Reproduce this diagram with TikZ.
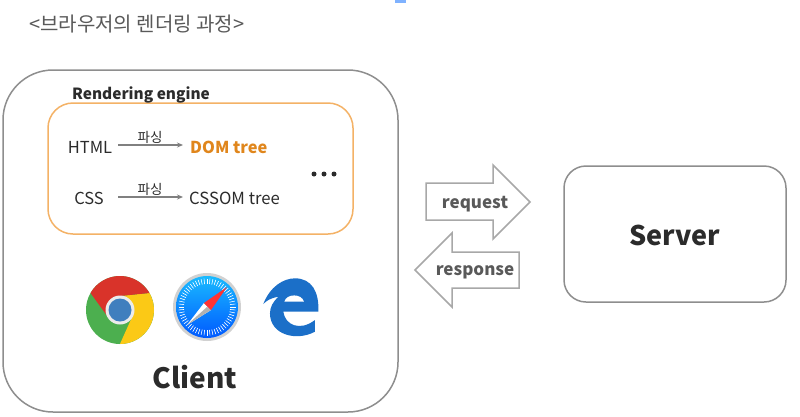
\documentclass[tikz,border=0pt]{standalone}
\usepackage{fontspec}
\setmainfont{Noto Sans CJK KR}
\usetikzlibrary{arrows.meta}
\definecolor{boxgray}{HTML}{8E8E8E}
\definecolor{arrowgray}{HTML}{A8A8A8}
\definecolor{orangeline}{HTML}{F4B266}
\definecolor{orangetext}{HTML}{E0861C}
\definecolor{ink}{HTML}{2B2B2B}
\definecolor{edgeblue}{HTML}{1B6FC8}
\definecolor{chromered}{HTML}{D9332A}
\definecolor{chromegreen}{HTML}{4CAF4F}
\definecolor{chromeyellow}{HTML}{FBC916}
\definecolor{chromeblue}{HTML}{3F7FBE}
\tikzset{
  x=1pt,y=-1pt,
  panel/.style={draw=boxgray,line width=1.5pt,fill=white},
  engine/.style={draw=orangeline,line width=1.5pt,fill=white},
  label/.style={font=\fontsize{16.5}{16.5}\selectfont,text=ink,inner sep=0pt},
  boldlabel/.style={font=\fontsize{15.4}{16}\selectfont\bfseries,text=ink,inner sep=0pt},
  parse/.style={font=\fontsize{13.5}{14}\selectfont,text=ink,inner sep=0pt},
  flow/.style={draw=arrowgray,line width=1.5pt,fill=white,line join=miter},
  flowtext/.style={font=\fontsize{17}{17}\selectfont\bfseries,text=black!65,inner sep=0pt},
  parsearrow/.style={draw=black!50,line width=1.2pt,-{Stealth[length=6pt,width=5pt]}},
}
\begin{document}
\begin{tikzpicture}
\useasboundingbox (0,0) rectangle (800,416);
\fill[white] (0,0) rectangle (800,416);
\fill[blue!60!cyan,opacity=.5] (395,0) rectangle (406,3);

\node[anchor=west,inner sep=0pt,text=black!65,font=\fontsize{20}{20}\selectfont] (title) at (29,24) {<브라우저의 렌더링 과정>};

\draw[panel,rounded corners=50pt] (3,70) rectangle (398,412);
\draw[engine,rounded corners=25pt] (48,103) rectangle (353,234);
\draw[panel,rounded corners=22pt] (564,166) rectangle (786,302);

\node[boldlabel,anchor=west] (engine) at (72,95) {Rendering engine};
\node[label] (html) at (90,147) {HTML};
\node[label] (css) at (89,198) {CSS};
\node[boldlabel,anchor=west,text=orangetext,font=\fontsize{16.4}{16}\selectfont\bfseries] (dom) at (190,147) {DOM tree};
\node[label,anchor=west,font=\fontsize{16.7}{16}\selectfont] (cssom) at (189,198) {CSSOM tree};
\coordinate (a1) at (118,145); \coordinate (b1) at (183,145);
\coordinate (a2) at (118,197); \coordinate (b2) at (183,197);
\draw[parsearrow] (a1) -- (b1);
\draw[parsearrow] (a2) -- (b2);
\node[parse] (p1) at (150,137) {파싱};
\node[parse] (p2) at (150,189) {파싱};
\foreach \x in {314,324,334} \fill[ink] (\x,174) circle (2.5);

\node[inner sep=0pt,text=ink,font=\fontsize{27}{27}\selectfont\bfseries] (server) at (675,235) {Server};
\node[inner sep=0pt,text=ink,font=\fontsize{28}{28}\selectfont\bfseries] (client) at (195,377) {Client};

\draw[flow] (426,183) -- (493,183) -- (493,165) -- (530,202) -- (493,239) -- (493,220) -- (426,220) -- cycle;
\draw[flow] (519,252) -- (452,252) -- (452,233) -- (415,270) -- (452,307) -- (452,288) -- (519,288) -- cycle;
\node[flowtext] (req) at (475,204) {request};
\node[flowtext] (res) at (475,272) {response};

% Chrome
\begin{scope}[shift={(120,310)},yscale=-1]
  \fill[chromegreen] (0,0) circle (34);
  \fill[chromeyellow] (29.4,17) arc (30:-90:34) -- (12.1,-7) -- (14,0) -- (0,14) -- cycle;
  \fill[chromered] (29.4,17) arc (30:150:34) -- (-12.1,-7) -- (-14,0) -- (0,14) -- cycle;
  \fill[black!8] (0,0) circle (14.5);
  \fill[chromeblue] (0,0) circle (11.5);
\end{scope}

% Safari
\begin{scope}[shift={(207,307)},yscale=-1]
  \fill[black!18] (0,0) circle (34);
  \shade[top color=cyan!70!blue!90,bottom color=blue!65!cyan] (0,0) circle (31);
  \foreach \a in {0,6,...,354} \draw[white,line width=0.6pt] (\a:23) -- (\a:28.5);
  \fill[white] (-20,-18) -- (-3,4) -- (4,-3) -- cycle;
  \fill[black!30] (-20,-18) -- (4,-3) -- (0,0) -- cycle;
  \fill[red!80!white] (20,20) -- (-3,4) -- (4,-3) -- cycle;
\end{scope}

% Edge
\begin{scope}[shift={(70,260)},x=0.3333pt,y=-0.3333pt]
\fill[edgeblue]
  (580,132) .. controls (600,80) and (640,55) .. (675,55)
  .. controls (725,55) and (748,95) .. (745,155)
  -- (640,155)
  .. controls (645,195) and (690,215) .. (735,180)
  -- (735,215)
  .. controls (680,245) and (600,225) .. (600,160)
  .. controls (600,140) and (610,125) .. (625,110)
  .. controls (600,115) and (590,122) .. (580,132) -- cycle;
\fill[white]
  (643,125) .. controls (650,100) and (695,100) .. (702,125) -- cycle;
\end{scope}
\end{tikzpicture}
\end{document}
